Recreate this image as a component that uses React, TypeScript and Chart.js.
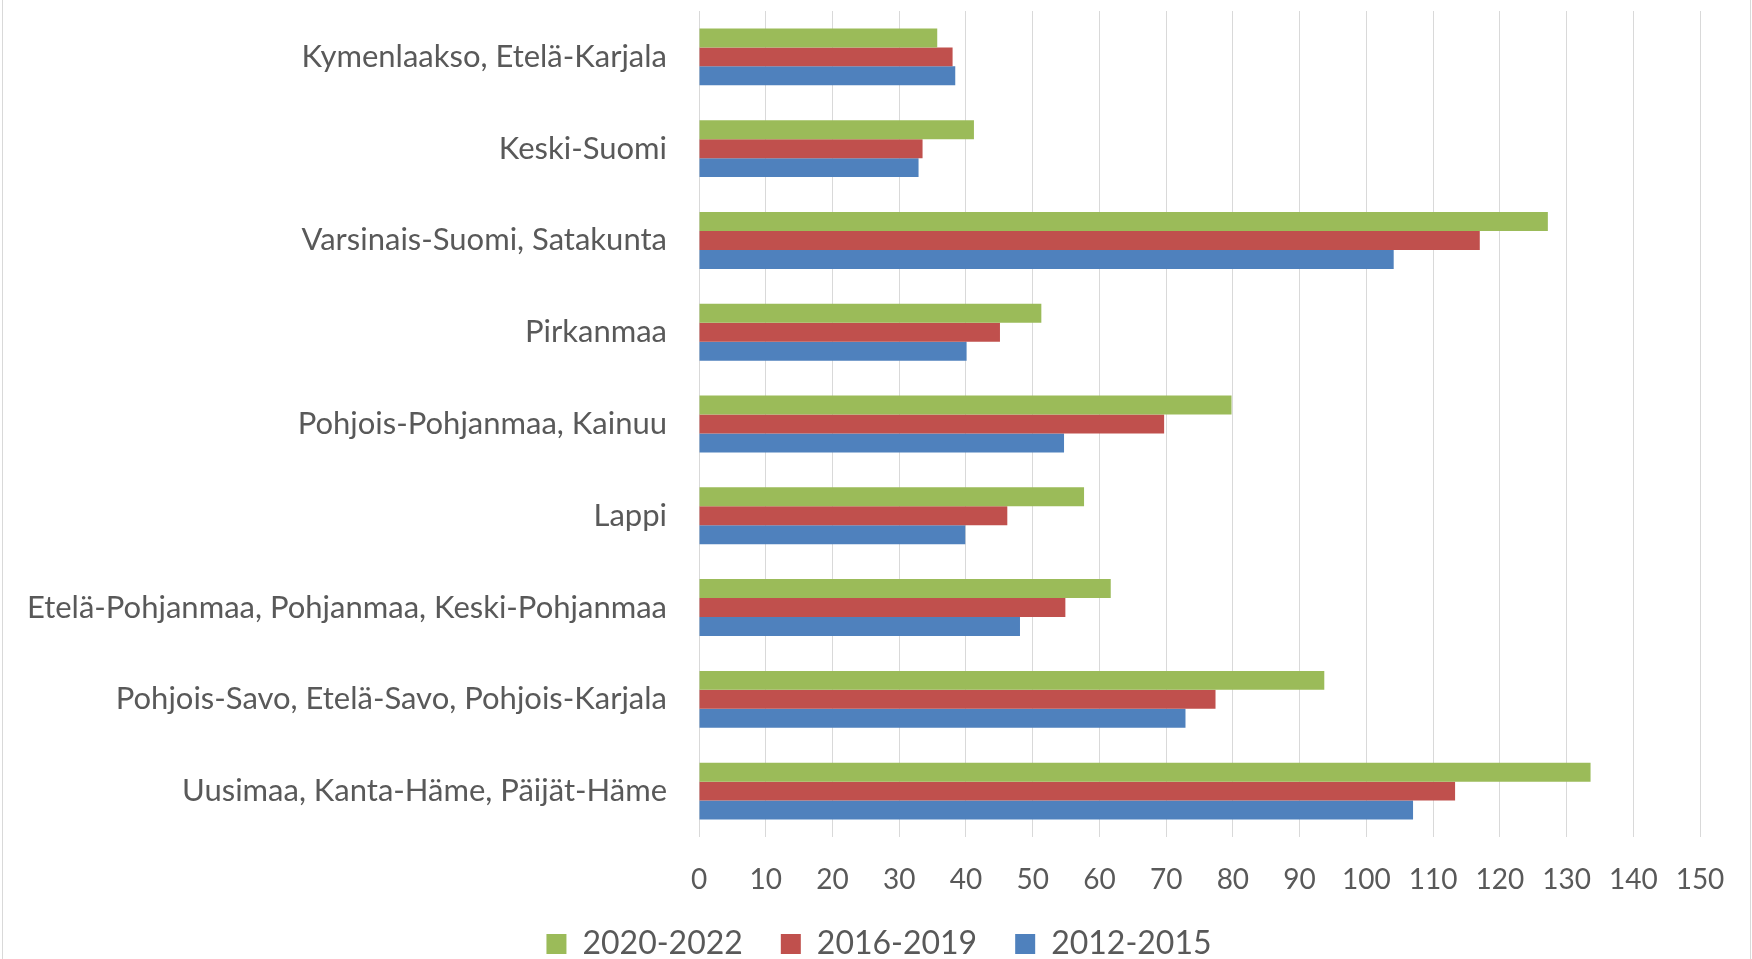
import React, { useEffect, useRef } from "react";
import { Chart, registerables } from "chart.js";

Chart.register(...registerables);

const categories: string[] = [
  "Kymenlaakso, Etelä-Karjala",
  "Keski-Suomi",
  "Varsinais-Suomi, Satakunta",
  "Pirkanmaa",
  "Pohjois-Pohjanmaa, Kainuu",
  "Lappi",
  "Etelä-Pohjanmaa, Pohjanmaa, Keski-Pohjanmaa",
  "Pohjois-Savo, Etelä-Savo, Pohjois-Karjala",
  "Uusimaa, Kanta-Häme, Päijät-Häme",
];

const seriesLabels: string[] = ["2020-2022", "2016-2019", "2012-2015"];

const values2020_2022: number[] = [35.7, 41.2, 127.2, 51.3, 79.8, 57.7, 61.7, 93.7, 133.6];
const values2016_2019: number[] = [38.0, 33.5, 117.0, 45.1, 69.7, 46.2, 54.9, 77.4, 113.3];
const values2012_2015: number[] = [38.4, 32.9, 104.1, 40.1, 54.7, 39.9, 48.1, 72.9, 107.0];

const xMin = 0;
const xMax = 150;
const xStep = 10;

const colors = ["#9BBB59", "#C0504D", "#4F81BD"];
const textColor = "#595959";
const gridColor = "#D9D9D9";
const fontFamily = "Lato, 'Noto Sans', sans-serif";

const legendShift = {
  id: "legendShift",
  afterLayout(chart: any) {
    const lg = chart.legend;
    if (lg) {
      lg.left += 29;
      lg.right += 29;
    }
  },
};

export default function App() {
  const canvasRef = useRef<HTMLCanvasElement | null>(null);

  useEffect(() => {
    if (!canvasRef.current) return;
    const allSeries = [values2020_2022, values2016_2019, values2012_2015];
    const chart = new Chart(canvasRef.current, {
      type: "bar",
      data: {
        labels: categories,
        datasets: allSeries.map((vals, i) => ({
          label: seriesLabels[i],
          data: vals,
          backgroundColor: colors[i],
          borderWidth: 0,
          barPercentage: 1,
          categoryPercentage: 0.62,
        })),
      },
      plugins: [legendShift],
      options: {
        indexAxis: "y",
        animation: false,
        responsive: true,
        maintainAspectRatio: false,
        layout: { padding: { top: 11, right: 52, left: 0, bottom: 0 } },
        plugins: {
          tooltip: { enabled: false },
          legend: {
            position: "bottom",
            labels: {
              boxWidth: 20,
              boxHeight: 20,
              padding: 38,
              color: textColor,
              font: { family: fontFamily, size: 32 },
            },
          },
        },
        scales: {
          x: {
            min: xMin,
            max: xMax,
            ticks: {
              stepSize: xStep,
              color: textColor,
              padding: 26,
              font: { family: fontFamily, size: 28 },
            },
            grid: { color: gridColor, lineWidth: 1, drawTicks: false },
            border: { display: false },
            afterFit: (scale: any) => {
              scale.height = 53;
            },
          },
          y: {
            ticks: {
              color: textColor,
              padding: 32,
              font: { family: fontFamily, size: 31 },
            },
            grid: { display: false, drawTicks: false },
            border: { display: false },
            afterFit: (scale: any) => {
              scale.width = 699;
              scale.paddingTop = 0;
              scale.paddingBottom = 0;
            },
          },
        },
      },
    });
    return () => chart.destroy();
  }, []);

  return (
    <div
      style={{
        position: "fixed",
        left: 0,
        top: 0,
        width: 1752,
        height: 970,
        background: "#ffffff",
      }}
    >
      <canvas ref={canvasRef} />
      <div
        style={{
          position: "absolute",
          left: 2,
          top: 0,
          width: 1747,
          height: 970,
          borderLeft: "1px solid #D9D9D9",
          borderRight: "1px solid #D9D9D9",
          pointerEvents: "none",
        }}
      />
    </div>
  );
}
